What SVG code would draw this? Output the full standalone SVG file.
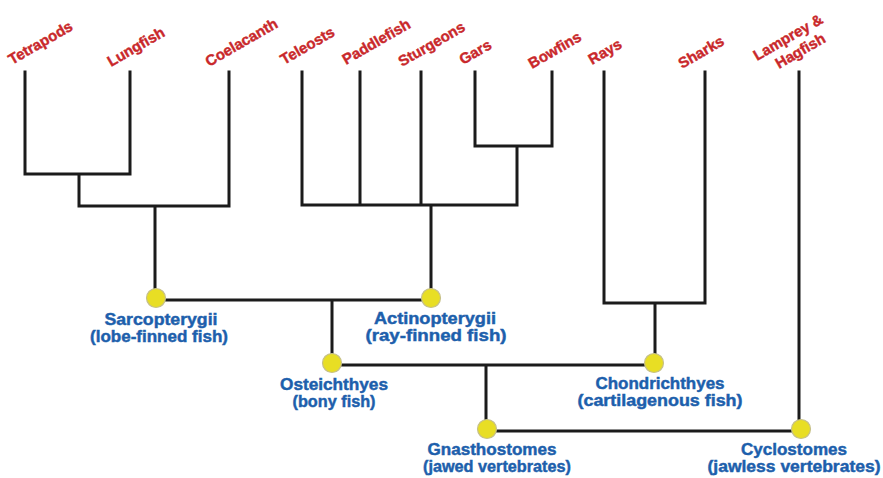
<svg xmlns="http://www.w3.org/2000/svg" width="883" height="478" viewBox="0 0 883 478">
<style>
.ln{fill:none;stroke:#1b1b1b;stroke-width:3;stroke-linecap:square;stroke-linejoin:miter}
.tx{font-family:"Liberation Sans",Arial,sans-serif;font-weight:bold;font-size:15px;fill:#c9282b;stroke:#c9282b;stroke-width:0.4}
.bl{font-family:"Liberation Sans",Arial,sans-serif;font-weight:bold;font-size:16px;fill:#1d5fac;stroke:#1d5fac;stroke-width:0.45;text-anchor:middle}
.nd{fill:#e8de24;stroke:#c6c08a;stroke-width:1.2}
</style>
<rect width="883" height="478" fill="#ffffff"/>
<g id="connectors">
<path class="ln" d="M25,72V174M130,72V174M25,174H130M79,174V206M229,72V206M79,206H229M155,206V296"/>
<path class="ln" d="M302,72V205M360,72V205M421,72V205M475,72V146M552,72V146M475,146H552M517,146V205M302,205H517M431,205V296"/>
<path class="ln" d="M157,300H431M332,300V362"/>
<path class="ln" d="M604,72V303M705,72V303M604,303H705M655,303V362"/>
<path class="ln" d="M332,365H655M486,365V430"/>
<path class="ln" d="M487,431H800M799,72V430"/>
</g>
<g id="leaf-tetrapods"><text class="tx" transform="translate(12,65) rotate(-30)">Tetrapods</text></g>
<g id="leaf-lungfish"><text class="tx" transform="translate(111,67) rotate(-30)">Lungfish</text></g>
<g id="leaf-coelacanth"><text class="tx" transform="translate(209,67) rotate(-30)">Coelacanth</text></g>
<g id="leaf-teleosts"><text class="tx" transform="translate(284,65) rotate(-30)">Teleosts</text></g>
<g id="leaf-paddlefish"><text class="tx" transform="translate(346,65) rotate(-30)">Paddlefish</text></g>
<g id="leaf-sturgeons"><text class="tx" transform="translate(402,67) rotate(-30)">Sturgeons</text></g>
<g id="leaf-gars"><text class="tx" transform="translate(463,65) rotate(-30)">Gars</text></g>
<g id="leaf-bowfins"><text class="tx" transform="translate(532,69) rotate(-30)">Bowfins</text></g>
<g id="leaf-rays"><text class="tx" transform="translate(592,65) rotate(-30)">Rays</text></g>
<g id="leaf-sharks"><text class="tx" transform="translate(682,69) rotate(-30)">Sharks</text></g>
<g id="leaf-lamprey"><text class="tx" transform="translate(757,61) rotate(-30)">Lamprey &amp;</text><text class="tx" transform="translate(779,69) rotate(-30)">Hagfish</text></g>
<g id="node-sarcopterygii"><circle class="nd" cx="156" cy="298" r="9.5"/><text class="bl" x="161" y="325" textLength="113" lengthAdjust="spacingAndGlyphs">Sarcopterygii</text><text class="bl" x="159" y="342" textLength="138" lengthAdjust="spacingAndGlyphs">(lobe-finned fish)</text></g>
<g id="node-actinopterygii"><circle class="nd" cx="431" cy="298" r="9.5"/><text class="bl" x="435" y="324" textLength="122" lengthAdjust="spacingAndGlyphs">Actinopterygii</text><text class="bl" x="436" y="341" textLength="141" lengthAdjust="spacingAndGlyphs">(ray-finned fish)</text></g>
<g id="node-osteichthyes"><circle class="nd" cx="332" cy="363" r="9.5"/><text class="bl" x="334" y="390" textLength="108" lengthAdjust="spacingAndGlyphs">Osteichthyes</text><text class="bl" x="334" y="407" textLength="83" lengthAdjust="spacingAndGlyphs">(bony fish)</text></g>
<g id="node-chondrichthyes"><circle class="nd" cx="654" cy="363" r="9.5"/><text class="bl" x="660" y="389" textLength="129" lengthAdjust="spacingAndGlyphs">Chondrichthyes</text><text class="bl" x="660" y="406" textLength="165" lengthAdjust="spacingAndGlyphs">(cartilagenous fish)</text></g>
<g id="node-gnasthostomes"><circle class="nd" cx="487" cy="429" r="9.5"/><text class="bl" x="492" y="455" textLength="129" lengthAdjust="spacingAndGlyphs">Gnasthostomes</text><text class="bl" x="497" y="472" textLength="148" lengthAdjust="spacingAndGlyphs">(jawed vertebrates)</text></g>
<g id="node-cyclostomes"><circle class="nd" cx="801" cy="429" r="9.5"/><text class="bl" x="794" y="455" textLength="106" lengthAdjust="spacingAndGlyphs">Cyclostomes</text><text class="bl" x="794" y="472" textLength="173" lengthAdjust="spacingAndGlyphs">(jawless vertebrates)</text></g>
</svg>
